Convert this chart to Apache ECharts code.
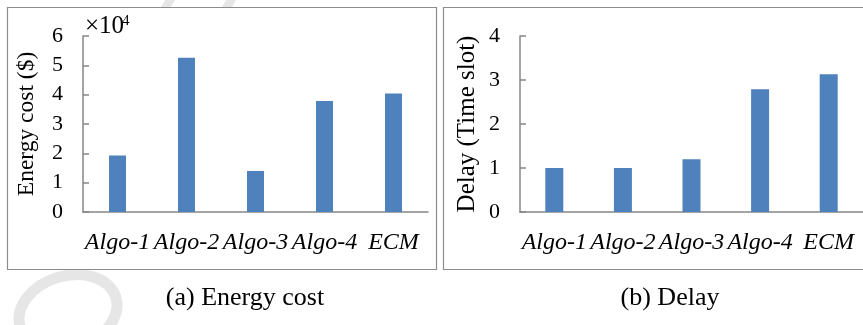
<!DOCTYPE html>
<html><head><meta charset="utf-8">
<script src="https://cdn.jsdelivr.net/npm/echarts@6/dist/echarts.min.js"></script>
<style>html,body{margin:0;padding:0;background:#fff}#c{width:863px;height:325px}</style>
</head><body><div id="c"></div>
<script>
const categories = ['Algo-1', 'Algo-2', 'Algo-3', 'Algo-4', 'ECM'];
const energyCost = [19300, 52600, 14000, 37800, 40400];
const delay = [1.0, 1.0, 1.2, 2.79, 3.13];
const energyTickLabels = ['0', '1', '2', '3', '4', '5', '6'];
const delayTickLabels = ['0', '1', '2', '3', '4'];

const FONT = '"Liberation Serif", "Times New Roman", serif';
const AXIS_COLOR = '#868686';
const BAR_COLOR = '#4F81BD';

const chart = echarts.init(document.getElementById('c'));

function xAxisCfg(gi) {
  return {
    type: 'category', gridIndex: gi, data: categories,
    axisTick: { show: false },
    axisLine: { lineStyle: { color: AXIS_COLOR, width: 1.5 } },
    axisLabel: { interval: 0, fontFamily: FONT, fontStyle: 'italic', fontSize: 24, color: '#000', margin: 19 }
  };
}
function yAxisCfg(gi, max, interval, labels, name, gap, nameSize) {
  return {
    type: 'value', gridIndex: gi, min: 0, max: max, interval: interval,
    splitLine: { show: false },
    axisLine: { show: true, lineStyle: { color: AXIS_COLOR, width: 1.5 } },
    axisTick: { show: true, inside: true, length: 6, lineStyle: { color: AXIS_COLOR, width: 1.5 } },
    axisLabel: { fontFamily: FONT, fontSize: 22, color: '#000', margin: 20,
      formatter: v => labels[Math.round(v / interval)] },
    name: name, nameLocation: 'middle', nameRotate: 90, nameGap: gap,
    nameTextStyle: { fontFamily: FONT, fontSize: nameSize, color: '#000' }
  };
}

chart.setOption({
  animation: false,
  grid: [
    { left: 83, top: 36, width: 345, height: 176 },
    { left: 520, top: 36, width: 355, height: 176 }
  ],
  xAxis: [xAxisCfg(0), xAxisCfg(1)],
  yAxis: [
    yAxisCfg(0, 60000, 10000, energyTickLabels, 'Energy cost ($)', 44, 23.5),
    yAxisCfg(1, 4, 1, delayTickLabels, 'Delay (Time slot)', 40, 25)
  ],
  series: [
    { type: 'bar', xAxisIndex: 0, yAxisIndex: 0, data: energyCost, barWidth: 17, itemStyle: { color: BAR_COLOR } },
    { type: 'bar', xAxisIndex: 1, yAxisIndex: 1, data: delay, barWidth: 18, itemStyle: { color: BAR_COLOR } }
  ],
  graphic: [
    { type: 'ellipse', shape: { cx: 68, cy: 312, rx: 50, ry: 36 }, rotation: 0.3, originX: 68, originY: 312,
      style: { fill: 'none', stroke: '#e6e6e6', lineWidth: 11 }, z: -10 },
    { type: 'polygon', shape: { points: [[165, 0], [175, 0], [171, 7], [161, 7]] }, style: { fill: '#e6e6e6' }, z: -10 },
    { type: 'polygon', shape: { points: [[226, 0], [236, 0], [232, 7], [222, 7]] }, style: { fill: '#e6e6e6' }, z: -10 },
    { type: 'rect', shape: { x: 7.5, y: 7.5, width: 429, height: 262 }, style: { fill: 'none', stroke: '#8c8c8c', lineWidth: 1.2 } },
    { type: 'rect', shape: { x: 443.5, y: 7.5, width: 460, height: 262 }, style: { fill: 'none', stroke: '#8c8c8c', lineWidth: 1.2 } },
    { type: 'text', x: 85, y: 26, style: { text: '×10', font: '25px ' + FONT, fill: '#000', textVerticalAlign: 'middle' } },
    { type: 'text', x: 122, y: 21, style: { text: '4', font: '15px ' + FONT, fill: '#000', textVerticalAlign: 'middle' } },
    { type: 'text', x: 245, y: 298, style: { text: '(a) Energy cost', font: '26px ' + FONT, fill: '#000', textAlign: 'center', textVerticalAlign: 'middle' } },
    { type: 'text', x: 670, y: 298, style: { text: '(b) Delay', font: '26px ' + FONT, fill: '#000', textAlign: 'center', textVerticalAlign: 'middle' } }
  ]
});
</script></body></html>
